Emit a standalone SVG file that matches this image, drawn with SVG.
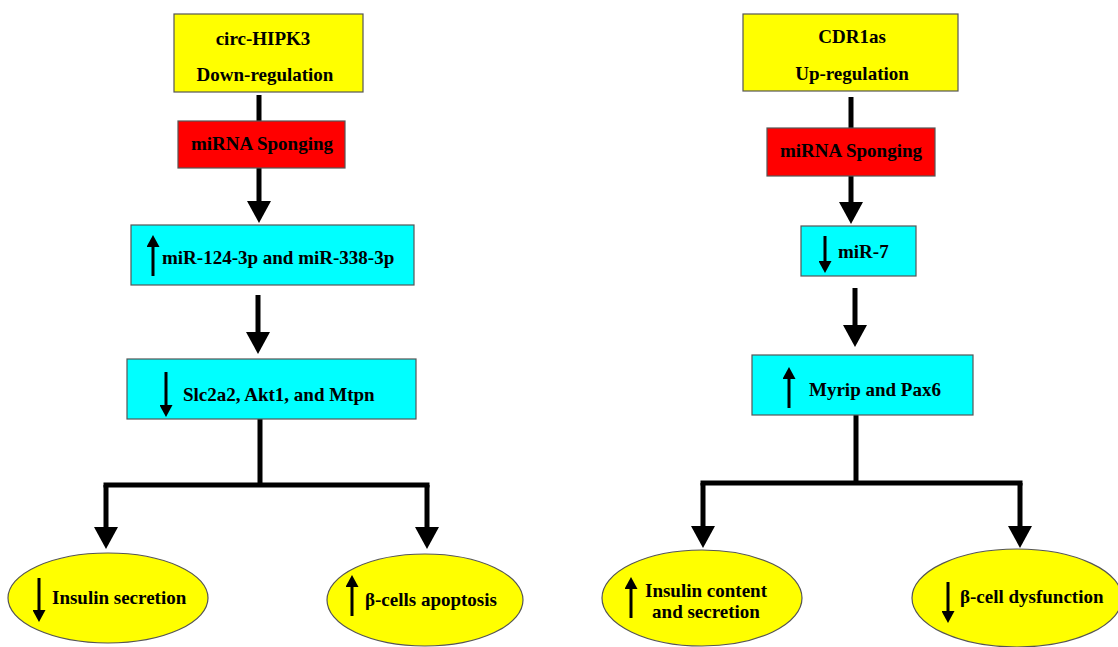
<svg xmlns="http://www.w3.org/2000/svg" width="1118" height="647" viewBox="0 0 1118 647">
<defs>
<style>
.t{font-family:"Liberation Serif","Times New Roman",serif;font-weight:bold;font-size:19px;fill:#000}
.m{text-anchor:middle}
.yel{fill:#FFFF00;stroke:#555;stroke-width:1.2}
.red{fill:#FF0000;stroke:#555;stroke-width:1.2}
.cy{fill:#00FFFF;stroke:#555;stroke-width:1.2}
.c{fill:none;stroke:#000;stroke-width:5}
.ca{fill:none;stroke:#000;stroke-width:5;marker-end:url(#big)}
.s{fill:none;stroke:#000;stroke-width:3;marker-end:url(#small)}
</style>
<marker id="big" markerUnits="userSpaceOnUse" markerWidth="22" markerHeight="24" refX="0" refY="12" orient="auto" viewBox="0 0 22 24">
<path d="M0,0 L22,12 L0,24 Z" fill="#000"/>
</marker>
<marker id="small" markerUnits="userSpaceOnUse" markerWidth="12" markerHeight="13" refX="0" refY="6.5" orient="auto" viewBox="0 0 12 13">
<path d="M0,0 L12,6.5 L0,13 Z" fill="#000"/>
</marker>
</defs>
<rect width="1118" height="647" fill="#fff"/>

<g id="connectors">
<path class="c" d="M259,95 V121"/>
<path class="ca" d="M259,168 V201"/>
<path class="ca" d="M258,295 V332"/>
<path class="c" d="M260,419 V485 M103.5,485 H429.5"/>
<path class="ca" d="M106,485 V527"/>
<path class="ca" d="M427,485 V527"/>

<path class="c" d="M851,97 V128"/>
<path class="ca" d="M851,176 V202"/>
<path class="ca" d="M855,288 V325"/>
<path class="c" d="M856,415 V483 M700.5,483 H1022.5"/>
<path class="ca" d="M703,483 V526"/>
<path class="ca" d="M1020,483 V526"/>
</g>

<g id="circ-hipk3">
<rect class="yel" x="174" y="14" width="189" height="78"/>
<text class="t m" x="263" y="45">circ-HIPK3</text>
<text class="t m" x="265" y="81">Down-regulation</text>
</g>
<g id="sponge-left">
<rect class="red" x="178" y="121" width="167" height="47"/>
<text class="t m" x="262" y="150">miRNA Sponging</text>
</g>
<g id="mir124">
<rect class="cy" x="131" y="225" width="283" height="60"/>
<path class="s" d="M153,276 V247"/>
<text class="t" x="162" y="264">miR-124-3p and miR-338-3p</text>
</g>
<g id="slc2a2">
<rect class="cy" x="127" y="359" width="289" height="60"/>
<path class="s" d="M166,372 V405"/>
<text class="t" x="183" y="401">Slc2a2, Akt1, and Mtpn</text>
</g>
<g id="insulin-secretion">
<ellipse class="yel" cx="108" cy="598" rx="100" ry="45"/>
<path class="s" d="M39,578 V610"/>
<text class="t" x="52" y="604">Insulin secretion</text>
</g>
<g id="apoptosis">
<ellipse class="yel" cx="425" cy="600" rx="98" ry="46"/>
<path class="s" d="M352,616 V587"/>
<text class="t" x="365" y="606">β-cells apoptosis</text>
</g>

<g id="cdr1as">
<rect class="yel" x="743" y="14" width="215" height="77"/>
<text class="t m" x="852" y="43">CDR1as</text>
<text class="t m" x="852" y="80">Up-regulation</text>
</g>
<g id="sponge-right">
<rect class="red" x="767" y="128" width="168" height="48"/>
<text class="t m" x="851" y="157">miRNA Sponging</text>
</g>
<g id="mir7">
<rect class="cy" x="801" y="226" width="115" height="50"/>
<path class="s" d="M825,236 V261"/>
<text class="t" x="838" y="258">miR-7</text>
</g>
<g id="myrip">
<rect class="cy" x="752" y="355" width="221" height="60"/>
<path class="s" d="M789,408 V379"/>
<text class="t" x="809" y="396">Myrip and Pax6</text>
</g>
<g id="insulin-content">
<ellipse class="yel" cx="702" cy="598" rx="100" ry="48"/>
<path class="s" d="M631,618 V589"/>
<text class="t m" x="706" y="597">Insulin content</text>
<text class="t m" x="706" y="618">and secretion</text>
</g>
<g id="dysfunction">
<ellipse class="yel" cx="1017" cy="598" rx="105" ry="49"/>
<path class="s" d="M948,582 V611"/>
<text class="t" x="960" y="603">β-cell dysfunction</text>
</g>
</svg>
